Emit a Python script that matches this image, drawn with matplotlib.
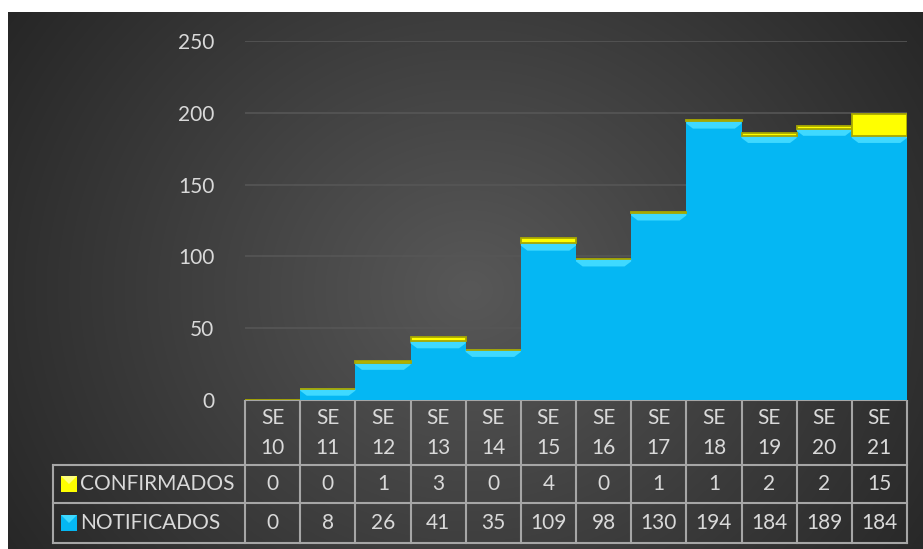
import numpy as np
import matplotlib.pyplot as plt
from matplotlib.patches import Rectangle, Polygon

# data
semanas = ['10', '11', '12', '13', '14', '15', '16', '17', '18', '19', '20', '21']
confirmados = [0, 0, 1, 3, 0, 4, 0, 1, 1, 2, 2, 15]
notificados = [0, 8, 26, 41, 35, 109, 98, 130, 194, 184, 189, 184]
y_ticks = [0, 50, 100, 150, 200, 250]

W, H = 923, 549
txt_col = '#d9d9d9'
line_col = '#a6a6a6'
azul = '#05b7f3'
azul_claro = '#3fd9ff'
amarillo = '#ffff00'
amarillo_borde = '#a8a800'

plt.rcParams['font.family'] = ['Lato', 'DejaVu Sans']
fs = 15

fig = plt.figure(figsize=(W / 100, H / 100), dpi=100, facecolor='white')


def rect(x0, y0, x1, y1):
    # pixel box (top-left origin) -> figure fraction
    return [x0 / W, 1 - y1 / H, (x1 - x0) / W, (y1 - y0) / H]


# background with radial gradient
bg = fig.add_axes(rect(8, 12, W, H))
bg.set_axis_off()
yy, xx = np.mgrid[12:H, 8:W]
r = np.sqrt(((xx - 470) / 1.0) ** 2 + ((yy - 290) / 0.9) ** 2)
t = np.clip(r / 580, 0, 1)
c0 = np.array([0x58, 0x58, 0x58]) / 255
c1 = np.array([0x24, 0x24, 0x24]) / 255
img = c0[None, None, :] * (1 - t[..., None]) + c1[None, None, :] * t[..., None]
bg.imshow(img, aspect='auto', extent=[0, 1, 0, 1])
bg.set_xlim(0, 1)
bg.set_ylim(0, 1)

# main chart
ax = fig.add_axes(rect(245, 41, 907, 400))
ax.set_facecolor('none')
x = np.arange(len(semanas))
ax.bar(x, notificados, width=1.0, color=azul, linewidth=0, zorder=2)
ax.bar(x, confirmados, width=1.0, bottom=notificados, color=amarillo,
       edgecolor=amarillo_borde, linewidth=1.3, zorder=3)

# bevel highlight on top of the blue blocks
bev = 5.0
for i, n in enumerate(notificados):
    if n <= 0:
        continue
    b = min(bev, n)
    poly = Polygon([(i - 0.5, n), (i + 0.5, n), (i + 0.5, n - b * 0.3),
                    (i + 0.5 - 0.12, n - b), (i - 0.5 + 0.12, n - b), (i - 0.5, n - b * 0.3)],
                   closed=True, facecolor=azul_claro, edgecolor='none', zorder=2.5)
    ax.add_patch(poly)

ax.set_xlim(-0.5, len(semanas) - 0.5)
ax.set_ylim(0, 250)
ax.set_yticks(y_ticks)
ax.set_xticks([])
ax.tick_params(axis='y', length=0, pad=22, labelsize=fs, labelcolor=txt_col)
ax.grid(axis='y', color='#565656', linewidth=1.2, zorder=0)
ax.set_axisbelow(True)
for s in ax.spines.values():
    s.set_visible(False)

# data table below the chart, drawn in pixel coordinates
tb = fig.add_axes(rect(0, 400, W, H))
tb.set_axis_off()
tb.set_xlim(0, W)
tb.set_ylim(H, 400)

col_left = 245
col_w = (907 - 245) / len(semanas)
rows = [400, 465, 503, 543]
lbl_left = 53

lw = 1.5
tb.plot([col_left, 907], [rows[0], rows[0]], color=line_col, lw=lw)
for yv in rows[1:]:
    tb.plot([lbl_left, 907], [yv, yv], color=line_col, lw=lw)
tb.plot([lbl_left, lbl_left], [rows[1], rows[3]], color=line_col, lw=lw)
for k in range(len(semanas) + 1):
    xv = col_left + k * col_w
    tb.plot([xv, xv], [rows[0], rows[3]], color=line_col, lw=lw)

for k, s in enumerate(semanas):
    cx = col_left + (k + 0.5) * col_w
    tb.text(cx, 418, 'SE', ha='center', va='center', color=txt_col, fontsize=fs)
    tb.text(cx, 448, s, ha='center', va='center', color=txt_col, fontsize=fs)
    tb.text(cx, 484, str(confirmados[k]), ha='center', va='center', color=txt_col, fontsize=fs)
    tb.text(cx, 523, str(notificados[k]), ha='center', va='center', color=txt_col, fontsize=fs)

# row labels with legend keys
for yc, name, fc, hc in [(484, 'CONFIRMADOS', amarillo, '#ffff80'),
                         (523, 'NOTIFICADOS', azul, azul_claro)]:
    tb.add_patch(Rectangle((61, yc - 8), 16, 16, facecolor=fc, edgecolor='none'))
    tb.add_patch(Polygon([(61, yc - 8), (77, yc - 8), (69, yc)], closed=True,
                         facecolor=hc, edgecolor='none'))
    tb.text(80, yc, name, ha='left', va='center', color=txt_col, fontsize=fs)

fig.savefig('out.png', dpi=100, facecolor='white')
